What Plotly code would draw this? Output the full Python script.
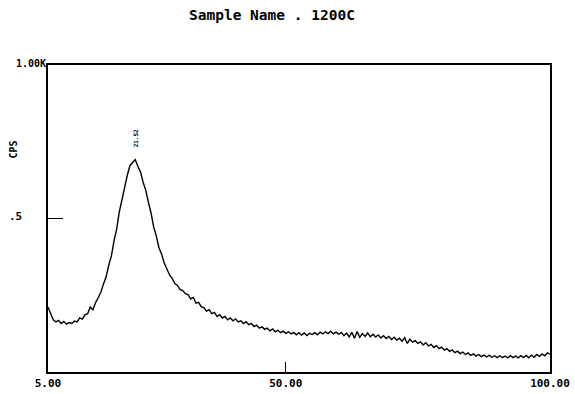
import plotly.graph_objects as go

# Scan angles (2-theta, degrees), 0.5 degree steps
two_theta = [
    5.0, 5.5, 6.0, 6.5, 7.0, 7.5, 8.0, 8.5, 9.0, 9.5,
    10.0, 10.5, 11.0, 11.5, 12.0, 12.5, 13.0, 13.5, 14.0, 14.5,
    15.0, 15.5, 16.0, 16.5, 17.0, 17.5, 18.0, 18.5, 19.0, 19.5,
    20.0, 20.5, 21.0, 21.5, 22.0, 22.5, 23.0, 23.5, 24.0, 24.5,
    25.0, 25.5, 26.0, 26.5, 27.0, 27.5, 28.0, 28.5, 29.0, 29.5,
    30.0, 30.5, 31.0, 31.5, 32.0, 32.5, 33.0, 33.5, 34.0, 34.5,
    35.0, 35.5, 36.0, 36.5, 37.0, 37.5, 38.0, 38.5, 39.0, 39.5,
    40.0, 40.5, 41.0, 41.5, 42.0, 42.5, 43.0, 43.5, 44.0, 44.5,
    45.0, 45.5, 46.0, 46.5, 47.0, 47.5, 48.0, 48.5, 49.0, 49.5,
    50.0, 50.5, 51.0, 51.5, 52.0, 52.5, 53.0, 53.5, 54.0, 54.5,
    55.0, 55.5, 56.0, 56.5, 57.0, 57.5, 58.0, 58.5, 59.0, 59.5,
    60.0, 60.5, 61.0, 61.5, 62.0, 62.5, 63.0, 63.5, 64.0, 64.5,
    65.0, 65.5, 66.0, 66.5, 67.0, 67.5, 68.0, 68.5, 69.0, 69.5,
    70.0, 70.5, 71.0, 71.5, 72.0, 72.5, 73.0, 73.5, 74.0, 74.5,
    75.0, 75.5, 76.0, 76.5, 77.0, 77.5, 78.0, 78.5, 79.0, 79.5,
    80.0, 80.5, 81.0, 81.5, 82.0, 82.5, 83.0, 83.5, 84.0, 84.5,
    85.0, 85.5, 86.0, 86.5, 87.0, 87.5, 88.0, 88.5, 89.0, 89.5,
    90.0, 90.5, 91.0, 91.5, 92.0, 92.5, 93.0, 93.5, 94.0, 94.5,
    95.0, 95.5, 96.0, 96.5, 97.0, 97.5, 98.0, 98.5, 99.0, 99.5,
    100.0,
]

# Intensity (counts per second)
cps = [
    212, 188, 170, 163, 168, 158, 165, 156, 161, 158,
    166, 163, 176, 172, 186, 190, 212, 203, 226, 242,
    260, 287, 310, 348, 378, 428, 466, 522, 565, 608,
    640, 672, 684, 692, 670, 652, 618, 592, 553, 518,
    472, 443, 405, 384, 355, 338, 316, 305, 288, 282,
    268, 265, 255, 252, 238, 243, 224, 227, 213, 209,
    198, 203, 190, 194, 181, 187, 176, 181, 170, 176,
    167, 173, 163, 167, 158, 164, 154, 158, 148, 153,
    143, 147, 139, 143, 134, 140, 131, 136, 128, 133,
    126, 131, 124, 129, 121, 128, 120, 127, 119, 126,
    122, 128, 121, 130, 124, 131, 125, 133, 124, 130,
    123, 129, 118, 127, 114, 129, 110, 132, 113, 125,
    116, 127, 115, 123, 114, 121, 111, 118, 109, 116,
    106, 113, 104, 110, 100, 112, 93, 107, 97, 102,
    93, 98, 88, 95, 85, 90, 80, 86, 76, 81,
    71, 76, 67, 72, 63, 68, 60, 65, 57, 62,
    54, 59, 52, 57, 50, 55, 49, 55, 48, 53,
    47, 53, 47, 52, 46, 53, 47, 52, 46, 53,
    47, 54, 46, 55, 48, 57, 51, 59, 53, 62,
    58,
]

peak_position = 21.52
peak_label = "21.52"
title_text = "Sample Name . 1200C"
y_label = "CPS"
x_tick_vals = [5, 50, 100]
x_tick_text = ["5.00", "50.00", "100.00"]

MONO = "DejaVu Sans Mono"

fig = go.Figure()
fig.add_trace(go.Scatter(
    x=two_theta, y=cps, mode="lines",
    line=dict(color="black", width=1.4),
    hoverinfo="skip", showlegend=False,
))

fig.update_layout(
    width=575, height=394,
    margin=dict(l=48, r=25, t=65, b=22),
    paper_bgcolor="white", plot_bgcolor="white",
    showlegend=False,
    xaxis=dict(
        range=[5, 100], showgrid=False, zeroline=False, automargin=False,
        showline=True, mirror=True, linecolor="black", linewidth=1.5,
        tickvals=x_tick_vals, ticktext=x_tick_text,
        ticks="inside", ticklen=10, tickcolor="black", tickwidth=1.3,
        tickfont=dict(family=MONO, size=11, color="black", weight="bold"),
    ),
    yaxis=dict(
        range=[0, 1000], showgrid=False, zeroline=False, automargin=False,
        showline=True, mirror=True, linecolor="black", linewidth=1.5,
        tickvals=[500], ticks="inside", ticklen=15, tickcolor="black",
        tickwidth=1.3, showticklabels=False,
    ),
    annotations=[
        dict(text=title_text, xref="paper", yref="paper", x=0.446, y=1.163,
             xanchor="center", yanchor="middle", showarrow=False,
             font=dict(family=MONO, size=14.5, color="black", weight="bold")),
        dict(text="1.00K", xref="paper", yref="y", x=0, y=1000,
             xanchor="right", yanchor="middle", yshift=2, showarrow=False,
             font=dict(family=MONO, size=10, color="black", weight="bold")),
        dict(text=".5", xref="paper", yref="y", x=-0.064, y=505,
             xanchor="center", yanchor="middle", showarrow=False,
             font=dict(family=MONO, size=11, color="black", weight="bold")),
        dict(text=y_label, xref="paper", yref="y", x=-0.0697, y=725,
             xanchor="center", yanchor="middle", textangle=-90, showarrow=False,
             font=dict(family=MONO, size=10, color="black", weight="bold")),
        dict(text=peak_label, xref="x", yref="y", x=peak_position, y=762,
             xanchor="center", yanchor="middle", textangle=-90, showarrow=False,
             font=dict(family=MONO, size=6, color="black", weight="bold")),
    ],
)

fig.write_html("out.html")
